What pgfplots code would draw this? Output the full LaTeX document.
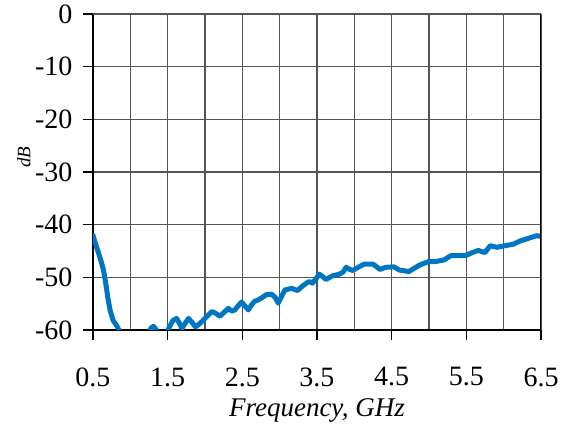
\documentclass[border=0pt]{standalone}
\usepackage{fontspec}
\setmainfont{Liberation Serif}
\usepackage{pgfplots}
\pgfplotsset{compat=1.18}
\usetikzlibrary{calc}
\definecolor{lineblue}{RGB}{0,118,194}
\definecolor{gridgray}{RGB}{85,85,85}

\pgfplotstableread{
f      db
0.50  -42.0
0.53  -43.5
0.57  -45.2
0.61  -47.0
0.64  -48.6
0.66  -50.2
0.68  -52.0
0.70  -54.0
0.73  -56.3
0.77  -58.2
0.81  -59.0
0.84  -59.8
0.87  -61.0
0.95  -63.0
1.10  -63.0
1.22  -61.0
1.28  -59.6
1.31  -59.3
1.35  -60.0
1.40  -61.0
1.48  -61.0
1.52  -59.5
1.57  -58.2
1.62  -57.8
1.66  -58.8
1.69  -59.7
1.74  -58.6
1.78  -57.8
1.83  -58.6
1.87  -59.4
1.92  -58.9
1.96  -58.4
2.02  -57.5
2.09  -56.5
2.14  -56.8
2.20  -57.4
2.26  -56.6
2.31  -55.9
2.36  -56.4
2.40  -56.2
2.45  -55.3
2.49  -54.7
2.54  -55.5
2.58  -56.2
2.62  -55.3
2.66  -54.6
2.71  -54.3
2.77  -53.8
2.82  -53.3
2.89  -53.2
2.94  -53.8
2.98  -54.9
3.03  -53.5
3.07  -52.4
3.16  -52.1
3.24  -52.5
3.31  -51.6
3.37  -51.0
3.40  -50.8
3.44  -51.1
3.49  -50.2
3.53  -49.4
3.58  -49.9
3.62  -50.4
3.71  -49.7
3.80  -49.4
3.85  -49.0
3.89  -48.1
3.94  -48.5
3.98  -48.7
4.05  -48.1
4.13  -47.5
4.25  -47.5
4.30  -48.0
4.34  -48.5
4.42  -48.1
4.53  -48.0
4.60  -48.6
4.73  -48.9
4.80  -48.3
4.87  -47.7
4.94  -47.3
5.00  -47.0
5.09  -47.0
5.20  -46.7
5.29  -45.9
5.40  -45.9
5.50  -45.8
5.58  -45.3
5.66  -44.9
5.75  -45.3
5.82  -44.0
5.91  -44.3
6.02  -44.0
6.13  -43.7
6.22  -43.1
6.33  -42.6
6.44  -42.1
6.50  -42.2
}\sdata

\begin{document}
\begin{tikzpicture}
\begin{axis}[
    name=ax,
    scale only axis,
    width=448pt, height=316pt,
    xmin=0.5, xmax=6.5,
    ymin=-60, ymax=0,
    axis x line*=bottom,
    axis y line*=left,
    axis line style={black, line width=2.5pt},
    xtick={0.5,1.5,2.5,3.5,4.5,5.5,6.5},
    xticklabels={0.5,1.5,2.5,3.5,4.5,5.5,6.5},
    minor xtick={1,2,3,4,5,6},
    ytick={-60,-50,-40,-30,-20,-10,0},
    yticklabels={-60,-50,-40,-30,-20,-10,0},
    tick align=outside,
    major tick length=10pt,
    minor tick length=0pt,
    tick style={black, line width=1.5pt},
    grid=both,
    major grid style={gridgray, line width=1.2pt},
    minor grid style={gridgray, line width=1.2pt},
    ticklabel style={font=\fontsize{28}{30}\selectfont},
    xticklabel style={yshift=-24pt},
    yticklabel style={xshift=-7pt},
    xlabel={\textit{Frequency, GHz}},
    every axis x label/.style={at={(rel axis cs:0.5,0)}, anchor=center, yshift=-80pt, font=\fontsize{27}{30}\selectfont},
    ylabel={\textit{dB}},
    every axis y label/.style={at={(rel axis cs:0,0.547)}, xshift=-69pt, rotate=90, anchor=center, font=\fontsize{19}{21}\selectfont},
    clip=true,
]
\addplot[lineblue, line width=5pt, line join=round, line cap=round] table[x=f, y=db] {\sdata};
\draw[gridgray, line width=1.2pt] (rel axis cs:0,1) -- (rel axis cs:1,1);
\draw[black, line width=2pt] (rel axis cs:1,0) -- (rel axis cs:1,1);
\end{axis}
\pgfresetboundingbox
\path ($(ax.south west)+(-93pt,-97pt)$) rectangle ($(ax.south west)+(482pt,330pt)$);
\end{tikzpicture}
\end{document}
